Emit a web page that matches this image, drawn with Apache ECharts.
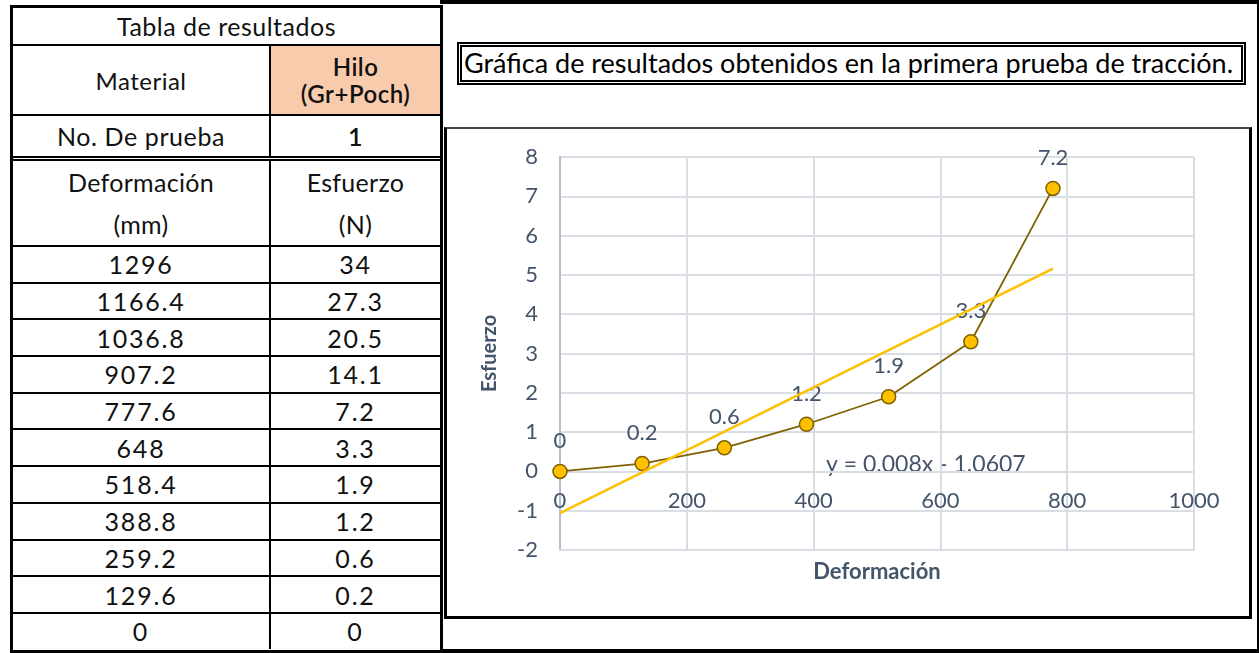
<!DOCTYPE html>
<html>
<head>
<meta charset="utf-8">
<script src="https://cdn.jsdelivr.net/npm/echarts@6/dist/echarts.min.js"></script>
<style>
  html, body { margin: 0; padding: 0; background: #fff; width: 1259px; height: 653px; overflow: hidden; font-family: Lato, "DejaVu Sans", sans-serif; }
  .abs { position: absolute; box-sizing: border-box; }
  #tabla { left: 10px; top: 5px; width: 433px; height: 648px; border: 3px solid #000; }
  #tabla table { width: 100%; border-collapse: collapse; table-layout: fixed; }
  #tabla td { border: 2px solid #000; text-align: center; padding: 0; color: #111; }
  #tabla tr:first-child td { border-top: none; }
  #tabla td:first-child { border-left: none; }
  #tabla td:last-child { border-right: none; }
  #tabla tr:last-child td { border-bottom: none; }
  .titulo { font-size: 25px; height: 36px; letter-spacing: 0.5px; }
  .mat td { height: 68px; font-size: 24px; letter-spacing: 0.5px; }
  .hilo { background: #F8CBAD; line-height: 27px; font-weight: 600; }
  .prueba td { height: 40px; font-size: 25px; letter-spacing: 0.6px; border-bottom: 5px double #000 !important; }
  .cab td { height: 84px; font-size: 25px; line-height: 42px; letter-spacing: 0.3px; }
  .fila td { height: 34.7px; font-size: 25px; line-height: 32px; letter-spacing: 1.8px; }
  #panel { left: 440px; top: 0px; width: 819px; height: 653px; border-top: 4px solid #000; border-right: 2px solid #000; border-bottom: 4px solid #000; }
  #tituloGraf { left: 457px; top: 42px; width: 789px; height: 43px; border: 5px double #000; font-size: 27px; line-height: 32px; padding-left: 2px; white-space: nowrap; color: #000; }
  #cajaGraf { left: 444px; top: 127px; width: 808px; height: 492px; border: 3px solid #000; border-top: 2px solid #444; background: #fff; }
  #chart { width: 100%; height: 100%; }
</style>
</head>
<body>
<div id="panel" class="abs"></div>
<div id="tabla" class="abs"><table id="tbl"></table></div>
<div id="tituloGraf" class="abs">Gráfica de resultados obtenidos en la primera prueba de tracción.</div>
<div id="cajaGraf" class="abs"><div id="chart"></div></div>
<script>
// datos de la tabla
const deformacion = [1296, 1166.4, 1036.8, 907.2, 777.6, 648, 518.4, 388.8, 259.2, 129.6, 0];
const esfuerzo = [34, 27.3, 20.5, 14.1, 7.2, 3.3, 1.9, 1.2, 0.6, 0.2, 0];

// puntos que aparecen en la grafica (solo hasta 777.6)
const graficaX = [0, 129.6, 259.2, 388.8, 518.4, 648, 777.6];
const graficaY = [0, 0.2, 0.6, 1.2, 1.9, 3.3, 7.2];

// linea de tendencia (extremos)
const tendenciaX = [0, 777.6];
const tendenciaY = [-1.06, 5.16];
const ecuacion = 'y = 0.008x - 1.0607';

// armar la tabla
let html = '<colgroup><col style="width:257px"><col></colgroup>';
html += '<tr><td colspan="2" class="titulo">Tabla de resultados</td></tr>';
html += '<tr class="mat"><td>Material</td><td class="hilo">Hilo<br>(Gr+Poch)</td></tr>';
html += '<tr class="prueba"><td>No. De prueba</td><td style="font-weight:600">1</td></tr>';
html += '<tr class="cab"><td>Deformación<br>(mm)</td><td>Esfuerzo<br>(N)</td></tr>';
deformacion.forEach((d, i) => {
  html += '<tr class="fila"><td>' + d + '</td><td>' + esfuerzo[i] + '</td></tr>';
});
document.getElementById('tbl').innerHTML = html;

const textoColor = '#44546A';
const rejilla = '#D9DDE4';
const fuente = 'Lato, "DejaVu Sans", sans-serif';
const myChart = echarts.init(document.getElementById('chart'));
const option = {
  animation: false,
  textStyle: { fontFamily: fuente },
  grid: { left: 113, right: 55, top: 28, bottom: 66, containLabel: false, outerBoundsMode: 'none' },
  xAxis: {
    type: 'value',
    min: 0, max: 1000, interval: 200,
    name: 'Deformación',
    nameLocation: 'middle',
    nameGap: 11,
    nameTextStyle: { color: textoColor, fontSize: 22, fontWeight: 'bold' },
    axisLine: { show: true, onZero: false, lineStyle: { color: rejilla, width: 2 } },
    axisTick: { show: false },
    // las etiquetas van junto a la linea de y = 0, como en Excel
    axisLabel: { color: textoColor, fontSize: 22, margin: -60, formatter: v => String(v) },
    splitLine: { show: true, lineStyle: { color: rejilla, width: 2 } }
  },
  yAxis: {
    type: 'value',
    min: -2, max: 8, interval: 1,
    name: 'Esfuerzo',
    nameLocation: 'middle',
    nameGap: 60,
    nameTextStyle: { color: textoColor, fontSize: 20, fontWeight: 'bold' },
    axisLine: { show: true, lineStyle: { color: '#B4BECE', width: 2 } },
    axisTick: { show: false },
    axisLabel: { color: textoColor, fontSize: 22, margin: 22 },
    splitLine: { show: true, lineStyle: { color: rejilla, width: 2 } }
  },
  series: [
    {
      name: 'Tendencia',
      type: 'line',
      data: tendenciaX.map((x, i) => [x, tendenciaY[i]]),
      symbol: 'none',
      lineStyle: { color: '#FFC000', width: 2.5 },
      z: 3
    },
    {
      name: 'Esfuerzo',
      type: 'line',
      data: graficaX.map((x, i) => [x, graficaY[i]]),
      symbol: 'circle',
      symbolSize: 14,
      lineStyle: { color: '#7F6000', width: 1.8 },
      itemStyle: { color: '#FFC000', borderColor: '#7F6000', borderWidth: 1.5 },
      label: {
        show: true,
        position: 'top',
        distance: 12,
        color: textoColor,
        fontSize: 22,
        formatter: p => p.value[1]
      },
      z: 2
    }
  ],
  graphic: [
    {
      type: 'text',
      left: 379,
      top: 324,
      style: { text: ecuacion, fill: textoColor, fontSize: 23, fontFamily: fuente }
    }
  ]
};
myChart.setOption(option);
</script>
</body>
</html>
